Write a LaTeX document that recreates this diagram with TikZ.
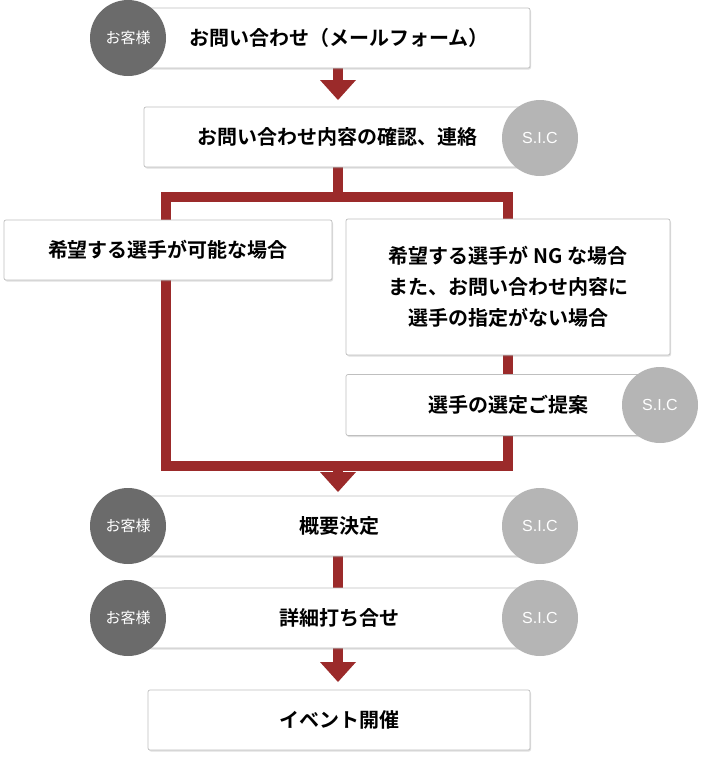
\documentclass[tikz,border=0pt]{standalone}
\usepackage{fontspec}
\usetikzlibrary{shadows}
\newfontfamily\cjk{Noto Sans CJK JP}[BoldFont={* Bold}]
\newfontfamily\lsans{Liberation Sans}
\definecolor{rd}{HTML}{9B2A2A}
\definecolor{dk}{HTML}{6B6B6B}
\definecolor{lt}{HTML}{B5B5B5}
\begin{document}
\begin{tikzpicture}[x=1pt,y=-1pt,
  bx/.style={draw=black!25,fill=white,rounded corners=2pt,line width=0.7pt,
    drop shadow={shadow xshift=1pt,shadow yshift=-1.5pt,opacity=0.25},
    font=\cjk\bfseries\fontsize{20}{31}\selectfont,align=center,inner sep=0pt},
  cust/.style={circle,fill=dk,minimum size=76pt,inner sep=0pt,text=white,font=\cjk\fontsize{15}{18}\selectfont},
  sic/.style={circle,fill=lt,minimum size=76pt,inner sep=0pt,text=white,font=\lsans\fontsize{16}{18}\selectfont},
  rl/.style={draw=rd,line width=10pt},
  ah/.style={fill=rd}]
\useasboundingbox (0,0) rectangle (701,764);
% red lines
\draw[rl] (338,167) -- (338,197);
\draw[rl] (166,197) -- (510,197);
\draw[rl] (166,192) -- (166,466) -- (508,466) -- (508,192);
\draw[rl] (338,68) -- (338,82);
\fill[ah] (320,80) -- (356,80) -- (338,100) -- cycle;
\draw[rl] (338,461) -- (338,474);
\fill[ah] (320,472) -- (356,472) -- (338,492) -- cycle;
\draw[rl] (338,556) -- (338,590);
\draw[rl] (338,648) -- (338,664);
\fill[ah] (320,662) -- (356,662) -- (338,682) -- cycle;
% boxes
\node[bx,minimum width=382pt,minimum height=60pt] (b1) at (339,38) {お問い合わせ（メールフォーム）};
\node[bx,minimum width=386pt,minimum height=60pt] (b2) at (337,137) {お問い合わせ内容の確認、連絡};
\node[bx,minimum width=328pt,minimum height=60pt] (b3) at (168,250) {希望する選手が可能な場合};
\node[bx,minimum width=324pt,minimum height=136pt] (b4) at (508,287) {希望する選手が NG な場合\\また、お問い合わせ内容に\\選手の指定がない場合};
\node[bx,minimum width=324pt,minimum height=61pt] (b5) at (508,405) {選手の選定ご提案};
\node[bx,minimum width=382pt,minimum height=60pt] (b6) at (339,526) {概要決定};
\node[bx,minimum width=382pt,minimum height=60pt] (b7) at (339,618) {詳細打ち合せ};
\node[bx,minimum width=382pt,minimum height=60pt] (b8) at (339,720) {イベント開催};
% circles
\node[cust] (c1) at (128,38) {お客様};
\node[sic] (s2) at (540,138) {S.I.C};
\node[sic] (s5) at (660,405) {S.I.C};
\node[cust] (c6) at (128,526) {お客様};
\node[sic] (s6) at (540,526) {S.I.C};
\node[cust] (c7) at (128,618) {お客様};
\node[sic] (s7) at (540,618) {S.I.C};
\end{tikzpicture}
\end{document}
